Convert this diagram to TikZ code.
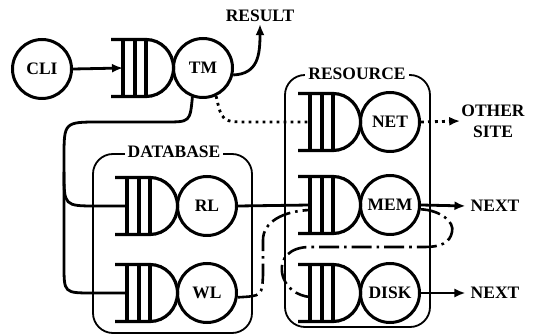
\documentclass[tikz,border=0pt]{standalone}
\usepackage{fontspec}
\setmainfont{Liberation Serif}
\usetikzlibrary{arrows.meta}
\tikzset{
  qline/.style={line width=3.2pt, line cap=butt},
  proc/.style={circle, draw, line width=3pt, minimum size=59pt, inner sep=0pt},
  conn/.style={line width=2.8pt},
  arr/.style={-{Latex[length=11pt,width=9pt]}},
  dots/.style={line width=2.8pt, dash pattern=on 2.8pt off 4.2pt},
  ddot/.style={line width=2.6pt, dash pattern=on 20pt off 5pt on 2.6pt off 5pt},
  boxframe/.style={draw, line width=1.8pt, rounded corners=20pt},
  boxlabel/.style={fill=white, inner sep=3pt},
  lbl/.style={inner sep=2pt},
  queue/.pic={
    \draw[qline] (-92,-28.5) -- (-57,-28.5)
      .. controls (-41.8,-28.5) and (-29.5,-15.7) .. (-29.5,0)
      .. controls (-29.5,15.7) and (-41.8,28.5) .. (-57,28.5) -- (-92,28.5);
    \draw[qline] (-80,-28.5) -- (-80,28.5) (-68,-28.5) -- (-68,28.5) (-57,-28.5) -- (-57,28.5);
    \coordinate (-in) at (-80,0);
  }
}
\begin{document}
\begin{tikzpicture}[x=1pt, y=-1pt, font=\fontsize{17.5}{21}\selectfont\bfseries]
\useasboundingbox (0,0) rectangle (533,336);

% boxes
\draw[boxframe] (93,154) rectangle (252,333);
\node[boxlabel] (dblabel) at (174,152) {DATABASE};
\draw[boxframe] (285,75) rectangle (430,327);
\node[boxlabel] (reslabel) at (357,74) {RESOURCE};

% processes
\node[proc] (cli) at (42,69) {CLI};
\pic (tmq) at (203,68) {queue};
\node[proc] (tm) at (203,68) {TM};
\pic (rlq) at (207,206) {queue};
\node[proc] (rl) at (207,206) {RL};
\pic (wlq) at (207,293) {queue};
\node[proc] (wl) at (207,293) {WL};
\pic (netq) at (390,122) {queue};
\node[proc] (net) at (390,122) {NET};
\pic (memq) at (390,205) {queue};
\node[proc] (mem) at (390,205) {MEM};
\pic (diskq) at (390,293) {queue};
\node[proc] (disk) at (390,293) {DISK};

% labels
\node[lbl] (result) at (260,16) {RESULT};
\node[lbl, inner sep=1pt, align=center] (other) at (493,121) {OTHER\\SITE};
\node[lbl] (nexta) at (495,206) {NEXT};
\node[lbl] (nextb) at (495,293) {NEXT};

% connectors
\draw[conn, arr] (cli.east) -- (tmq-in);
\draw[conn, arr] (tm.-13) .. controls (258,74) and (260,55) .. (result.south);
\draw[conn] (tm.250) .. controls (190,122) .. (165,122) -- (100,122)
   .. controls (64,122) .. (64,158) -- (64,172) coordinate (split)
   .. controls (64,206) .. (97,206) -- (rlq-in);
\draw[conn] (split) -- (64,265) .. controls (64,293) .. (93,293) -- (wlq-in);
\draw[dots] (tm.295) .. controls (222,122) .. (250,122) -- (netq-in);
\draw[dots, arr] (net.east) -- (other.west);
\draw[conn] (rl.east) -- (memq-in);
\draw[conn, arr] (mem.east) -- ([xshift=-3pt]nexta.west);
\draw[conn, arr] (disk.east) -- ([xshift=-3pt]nextb.west);
\draw[ddot] (wl.-8) .. controls (262,296) .. (263,275) -- (263,240)
   .. controls (263,222) and (283,211) .. ([yshift=-5pt]memq-in);
\draw[ddot] (mem.-8) .. controls (440,210) and (455,222) .. (452,232)
   .. controls (450,243) and (440,247) .. (425,247) -- (310,247)
   .. controls (290,247) and (280,258) .. (282,272)
   .. controls (284,288) and (298,296) .. ([yshift=-4pt]diskq-in);
\end{tikzpicture}
\end{document}
